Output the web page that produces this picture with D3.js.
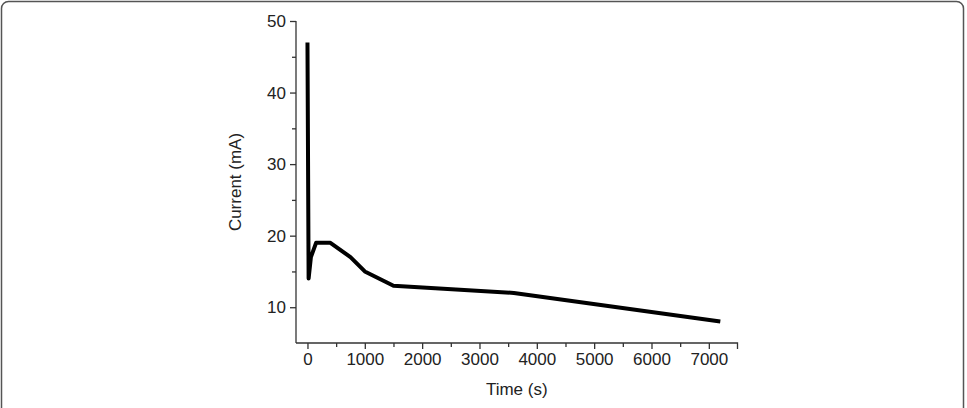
<!DOCTYPE html>
<html lang="en">
    <head>
        <meta charset="utf-8">
        <title>Current vs time</title>
        <script type="text/javascript" src="https://cdn.jsdelivr.net/npm/d3@7"></script>
        <style type="text/css">
            body { margin: 0; background: #fff; }
            svg text { font-family: "Liberation Sans", Arial, sans-serif; fill: #222; }
            .axis path, .axis line { stroke: #333; stroke-width: 1.3; }
            .axis text { font-size: 17px; }
        </style>
    </head>
    <body>
        <div class="chart"></div>
        <script type="text/javascript">
            // data
            var timeValues = [0, 20, 60, 150, 400, 750, 1000, 1500, 3600, 7200];
            var currentValues = [47, 14, 17, 19, 19, 17, 15, 13, 12, 8];
            var xTicks = [0, 1000, 2000, 3000, 4000, 5000, 6000, 7000];
            var yTicks = [10, 20, 30, 40, 50];

            var w = 967;
            var h = 408;
            var svg = d3.select("div.chart")
                        .append("svg")
                        .attr("width", w)
                        .attr("height", h);

            // frame round the figure
            svg.append("rect")
               .attr("x", 1.5)
               .attr("y", 1.5)
               .attr("width", 962)
               .attr("height", 430)
               .attr("rx", 7)
               .attr("fill", "none")
               .attr("stroke", "#555")
               .attr("stroke-width", 1.5);

            // scales
            var xScale = d3.scaleLinear().domain([-200, 7500]).range([296, 737.5]);
            var yScale = d3.scaleLinear().domain([5, 50]).range([343, 21]);

            // axes (major + minor ticks)
            var xAxis = d3.axisBottom(xScale).tickValues(xTicks).tickSize(6).tickPadding(4).tickFormat(d3.format("d"));
            var yAxis = d3.axisLeft(yScale).tickValues(yTicks).tickSize(6).tickPadding(4);
            var xMinor = d3.axisBottom(xScale).tickValues(d3.range(500, 7500, 1000)).tickSize(4).tickFormat("");
            var yMinor = d3.axisLeft(yScale).tickValues([15, 25, 35, 45]).tickSize(4).tickFormat("");

            svg.append("g").attr("class", "x axis")
               .attr("transform", "translate(0," + yScale(5) + ")")
               .call(xAxis)
               .call(function(g){ g.select(".domain").attr("d", "M" + xScale(-200) + ",0H" + xScale(7500) + "V6"); });
            svg.append("g").attr("class", "x axis")
               .attr("transform", "translate(0," + yScale(5) + ")")
               .call(xMinor)
               .select(".domain").remove();
            svg.append("g").attr("class", "y axis")
               .attr("transform", "translate(" + xScale(-200) + ",0)")
               .call(yAxis)
               .call(function(g){ g.select(".domain").attr("d", "M0," + yScale(5) + "V" + yScale(50)); });
            svg.append("g").attr("class", "y axis")
               .attr("transform", "translate(" + xScale(-200) + ",0)")
               .call(yMinor)
               .select(".domain").remove();

            // axis titles
            svg.append("text")
               .attr("x", (xScale(-200) + xScale(7500)) / 2)
               .attr("y", 395)
               .attr("text-anchor", "middle")
               .attr("font-size", 17)
               .text("Time (s)");
            svg.append("text")
               .attr("transform", "translate(241," + (yScale(5) + yScale(50)) / 2 + ") rotate(-90)")
               .attr("text-anchor", "middle")
               .attr("font-size", 17)
               .text("Current (mA)");

            // the curve
            var line = d3.line()
                         .x(function(d, i){ return xScale(timeValues[i]); })
                         .y(function(d){ return yScale(d); });
            svg.append("path")
               .datum(currentValues)
               .attr("d", line)
               .attr("fill", "none")
               .attr("stroke", "#000")
               .attr("stroke-width", 4)
               .attr("stroke-linejoin", "round");
        </script>
    </body>
</html>
